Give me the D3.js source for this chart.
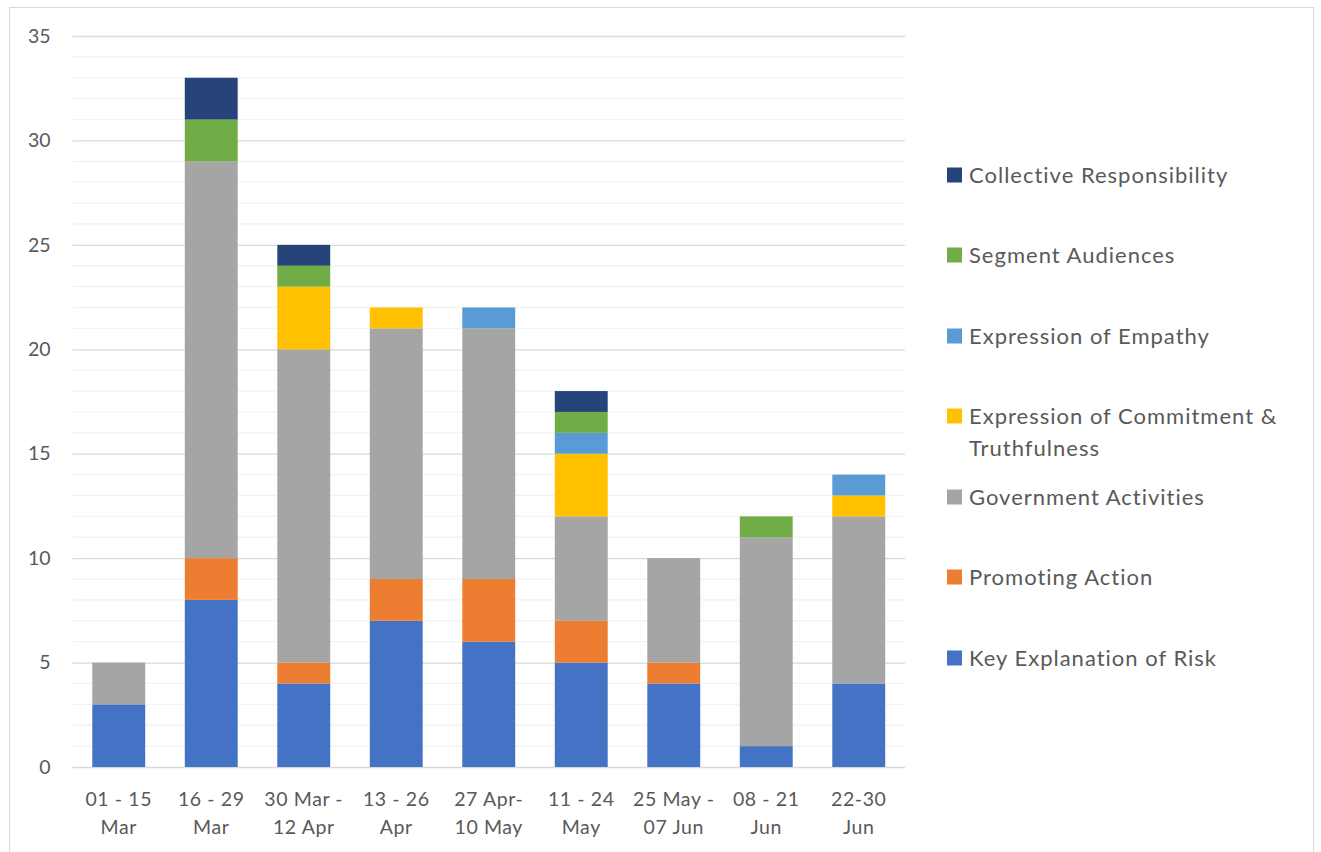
<!DOCTYPE html>
<html>
<head>
<meta charset="utf-8">
<script src="https://cdn.jsdelivr.net/npm/d3@7"></script>
<style>
  body { margin: 0; background: #fff; }
  svg { display: block; font-family: Lato, "Open Sans", sans-serif; }
</style>
</head>
<body>
<script>
// Data
const periods = [
  ["01 - 15", "Mar"], ["16 - 29", "Mar"], ["30 Mar -", "12 Apr"], ["13 - 26", "Apr"],
  ["27 Apr-", "10 May"], ["11 - 24", "May"], ["25 May -", "07 Jun"], ["08 - 21", "Jun"], ["22-30", "Jun"]
];
const seriesNames = [
  "Key Explanation of Risk", "Promoting Action", "Government Activities",
  "Expression of Commitment & Truthfulness", "Expression of Empathy",
  "Segment Audiences", "Collective Responsibility"
];
const keyRisk      = [3, 8, 4, 7, 6, 5, 4, 1, 4];
const promoting    = [0, 2, 1, 2, 3, 2, 1, 0, 0];
const government   = [2, 19, 15, 12, 12, 5, 5, 10, 8];
const commitment   = [0, 0, 3, 1, 0, 3, 0, 0, 1];
const empathy      = [0, 0, 0, 0, 1, 1, 0, 0, 1];
const segment      = [0, 2, 1, 0, 0, 1, 0, 1, 0];
const collective   = [0, 2, 1, 0, 0, 1, 0, 0, 0];
const colors = ["#4472C4", "#ED7D31", "#A5A5A5", "#FFC000", "#5B9BD5", "#70AD47", "#264478"];
const yTicks = [0, 5, 10, 15, 20, 25, 30, 35];

const seriesValues = [keyRisk, promoting, government, commitment, empathy, segment, collective];
const rows = periods.map((p, i) => {
  const r = { period: i };
  seriesNames.forEach((s, j) => r[s] = seriesValues[j][i]);
  return r;
});

const W = 1321, H = 852;
const margin = { top: 36, left: 72.5, right: 416, bottom: 85 };
const plotW = 905 - margin.left;
const plotH = 767 - margin.top;

const svg = d3.select("body").append("svg")
  .attr("width", W).attr("height", H);

// outer chart border
svg.append("rect")
  .attr("x", 9.5).attr("y", 7.5).attr("width", 1304).attr("height", 860)
  .attr("fill", "none").attr("stroke", "#d9d9d9");

const g = svg.append("g").attr("transform", `translate(${margin.left},${margin.top})`);

const x = d3.scaleBand().domain(d3.range(periods.length)).range([0, plotW]).paddingInner(0.428).paddingOuter(0.214);
const y = d3.scaleLinear().domain([0, 35]).range([plotH, 0]);

// minor gridlines
g.append("g").selectAll("line")
  .data(d3.range(0, 36).filter(v => v % 5 !== 0))
  .join("line")
  .attr("x1", 0).attr("x2", plotW)
  .attr("y1", d => y(d)).attr("y2", d => y(d))
  .attr("stroke", "#f2f2f2").attr("stroke-width", 1.3);

// major gridlines + y labels
const yAxis = g.append("g")
  .call(d3.axisLeft(y).tickValues(yTicks).tickSize(-plotW).tickPadding(22));
yAxis.select(".domain").remove();
yAxis.selectAll(".tick line").attr("stroke", "#d9d9d9").attr("stroke-width", 1.3);
yAxis.selectAll(".tick text")
  .attr("fill", "#595959").attr("font-size", "19.5px").attr("font-family", "Lato, sans-serif");

// stacked bars
const stack = d3.stack().keys(seriesNames)(rows);
g.selectAll(".series")
  .data(stack)
  .join("g")
  .attr("fill", (d, i) => colors[i])
  .selectAll("rect")
  .data(d => d.filter(v => v[1] > v[0]))
  .join("rect")
  .attr("x", d => x(d.data.period))
  .attr("width", x.bandwidth())
  .attr("y", d => y(d[1]))
  .attr("height", d => y(d[0]) - y(d[1]));

// x axis labels
const xl = g.append("g").attr("transform", `translate(0,${plotH})`);
periods.forEach((p, i) => {
  const cx = x(i) + x.bandwidth() / 2;
  const t = xl.append("text")
    .attr("text-anchor", "middle")
    .attr("letter-spacing", "0.6px")
    .attr("fill", "#595959").attr("font-size", "19.5px");
  t.append("tspan").attr("x", cx).attr("y", 39).text(p[0]);
  t.append("tspan").attr("x", cx).attr("y", 67).text(p[1]);
});

// legend (reversed order, top = last series)
const legendY = [175, 255, 336, 416, 497, 577, 658];
const legendOrder = seriesNames.map((s, i) => i).reverse();
const legend = svg.append("g");
legendOrder.forEach((si, k) => {
  const ly = legendY[k];
  legend.append("rect")
    .attr("x", 947).attr("y", ly - 7.5).attr("width", 15).attr("height", 15)
    .attr("fill", colors[si]);
  const t = legend.append("text")
    .attr("x", 969).attr("y", ly + 7.5)
    .attr("letter-spacing", "1px")
    .attr("fill", "#595959").attr("font-size", "22px");
  if (seriesNames[si].startsWith("Expression of Commitment")) {
    t.append("tspan").attr("x", 969).attr("y", ly + 7.5).text("Expression of Commitment &");
    t.append("tspan").attr("x", 969).attr("y", ly + 40).text("Truthfulness");
  } else {
    t.text(seriesNames[si]);
  }
});
</script>
</body>
</html>
